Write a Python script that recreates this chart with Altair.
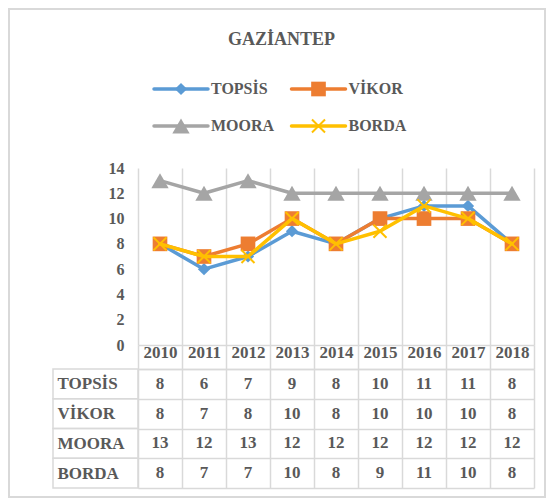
import altair as alt
import pandas as pd

# ---- data ----
years = ["2010", "2011", "2012", "2013", "2014", "2015", "2016", "2017", "2018"]
series = ["TOPSİS", "VİKOR", "MOORA", "BORDA"]
topsis = [8, 6, 7, 9, 8, 10, 11, 11, 8]
vikor = [8, 7, 8, 10, 8, 10, 10, 10, 8]
moora = [13, 12, 13, 12, 12, 12, 12, 12, 12]
borda = [8, 7, 7, 10, 8, 9, 11, 10, 8]
title_text = "GAZİANTEP"

# ---- style ----
colors = ["#5B9BD5", "#ED7D31", "#A5A5A5", "#FFC000"]
X_PATH = "M-1,-1L1,1M1,-1L-1,1"
LINE_PATH = "M-1,0L1,0"
shapes = ["diamond", "square", "triangle-up", X_PATH]
msizes = [150, 215, 300, 170]
FONT = "Liberation Serif"
TXT = "#595959"
GRID = "#D9D9D9"
W = 396

values = [topsis, vikor, moora, borda]
rows = []
for s, vals in zip(series, values):
    for y, v in zip(years, vals):
        rows.append({"series": s, "year": y, "value": v})
df = pd.DataFrame(rows)

leg_df = pd.DataFrame({"series": series,
                       "col": [i % 2 for i in range(len(series))],
                       "row": [i // 2 for i in range(len(series))]})

color_enc = alt.Color("series:N", scale=alt.Scale(domain=series, range=colors), legend=None)

# ---- legend + title + frame ----
lx = alt.X("col:Q", scale=alt.Scale(domain=[0, 1], range=[43, 180.5]), axis=None)
ly = alt.Y("row:Q", scale=alt.Scale(domain=[0, 1], range=[29, 66]), axis=None)
lbase = alt.Chart(leg_df).encode(x=lx, y=ly, color=color_enc)

frame = alt.Chart(pd.DataFrame({"a": [0]})).mark_rect(
    fillOpacity=0, stroke=GRID, strokeWidth=2
).encode(x=alt.value(-129), x2=alt.value(407), y=alt.value(-51), y2=alt.value(437))

title = alt.Chart(pd.DataFrame({"t": [title_text]})).mark_text(
    font=FONT, fontSize=18, fontWeight="bold", color=TXT, align="center", baseline="alphabetic"
).encode(text="t:N", x=alt.value(143.5), y=alt.value(-15))

leg_layers = [frame, title]
leg_layers.append(lbase.mark_point(shape=LINE_PATH, size=54 ** 2, strokeWidth=3.5,
                                   filled=False, opacity=1, strokeCap="round"))
for s, shp, sz in zip(series, shapes, msizes):
    f = lbase.transform_filter(alt.datum.series == s)
    if s == "BORDA":
        leg_layers.append(f.mark_point(shape=shp, size=sz, filled=False, strokeWidth=2, opacity=1))
    else:
        leg_layers.append(f.mark_point(shape=shp, size=sz, filled=True, opacity=1))
leg_layers.append(alt.Chart(leg_df).mark_text(
    align="left", baseline="middle", dx=30, font=FONT, fontSize=16, fontWeight="bold", color=TXT
).encode(x=lx, y=ly, text="series:N"))

legend = alt.layer(*leg_layers).properties(width=W, height=84)

# ---- plot ----
xs = alt.Scale(type="band", paddingInner=0, paddingOuter=0)
base = alt.Chart(df).encode(
    x=alt.X("year:O", sort=years, scale=xs,
            axis=alt.Axis(labels=False, ticks=False, title=None, domain=True,
                          domainColor=GRID, domainWidth=1.5, grid=True, gridColor=GRID,
                          gridWidth=1.5, tickBand="extent")),
    y=alt.Y("value:Q", scale=alt.Scale(domain=[0, 14]),
            axis=alt.Axis(values=list(range(0, 15, 2)), title=None, domain=False, ticks=False,
                          grid=False, labelFont=FONT, labelFontSize=16, labelFontWeight="bold",
                          labelColor=TXT, labelPadding=14)),
    color=color_enc,
)
layers = []
for s, shp, sz in zip(series, shapes, msizes):
    f = base.transform_filter(alt.datum.series == s)
    layers.append(f.mark_line(strokeWidth=3.5, strokeCap="round", strokeJoin="round"))
    if s == "BORDA":
        layers.append(f.mark_point(shape=shp, size=sz, filled=False, strokeWidth=2, opacity=1))
    else:
        layers.append(f.mark_point(shape=shp, size=sz, filled=True, opacity=1))
plot = alt.layer(*layers).properties(width=W, height=177)

# ---- data table ----
tx = alt.X("year:O", sort=years, scale=xs,
           axis=alt.Axis(orient="top", title=None, tickBand="extent", ticks=True, tickSize=24,
                         tickColor=GRID, tickWidth=1.5, domain=True, domainColor=GRID,
                         domainWidth=1.5, grid=True, gridColor=GRID, gridWidth=1.5,
                         labelFont=FONT, labelFontSize=17, labelFontWeight="bold",
                         labelColor=TXT, labelPadding=-16, labelAngle=0))
ty = alt.Y("series:N", sort=series, scale=alt.Scale(type="band", paddingInner=0, paddingOuter=0),
           axis=alt.Axis(title=None, ticks=False, domain=False, grid=True, tickBand="extent",
                         gridColor=GRID, gridWidth=1.5, labelAlign="left", labelPadding=81,
                         labelFont=FONT, labelFontSize=17, labelFontWeight="bold",
                         labelColor=TXT))
cells = alt.Chart(pd.DataFrame({"series": series})).mark_rect(
    fillOpacity=0, stroke=GRID, strokeWidth=1.5
).encode(y=ty, x=alt.value(-85), x2=alt.value(0))
nums = alt.Chart(df).mark_text(font=FONT, fontSize=17, fontWeight="bold", color=TXT,
                               baseline="middle").encode(x=tx, y=ty, text="value:Q")
table = alt.layer(nums, cells).properties(width=W, height=119)

chart = alt.vconcat(legend, plot, table, spacing=24, bounds="flush").properties(
    padding={"left": 0, "top": 0, "right": 0, "bottom": 14}
).configure_view(strokeWidth=0)

chart.save("out.html", embed_options={"renderer": "svg", "actions": False})
